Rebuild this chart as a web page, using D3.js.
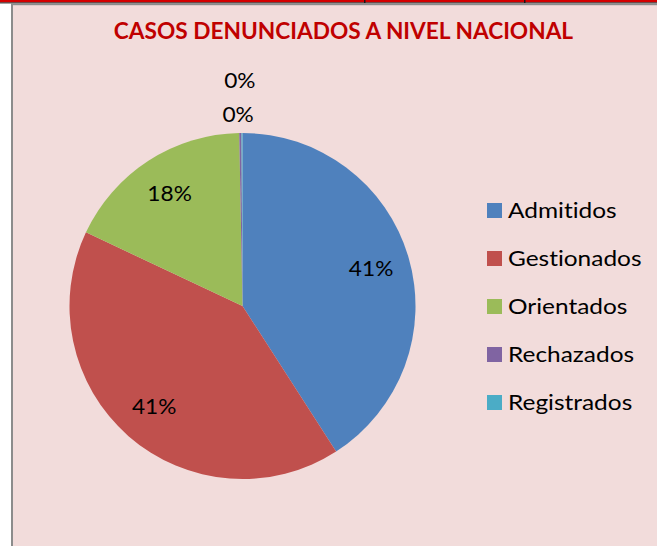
<!DOCTYPE html>
<html>
<head>
<meta charset="utf-8">
<script src="https://cdn.jsdelivr.net/npm/d3@7"></script>
<style>
  body { margin: 0; background: #fff; }
  svg { display: block; }
  text { font-family: Lato, "Noto Sans", sans-serif; font-variant-ligatures: none; }
</style>
</head>
<body>
<svg id="chart" width="657" height="546"></svg>
<script>
// ---------------------------------------------------------------
// data (shares, in %)
const categories = ["Admitidos", "Gestionados", "Orientados", "Rechazados", "Registrados"];
const values     = [40.9, 41.1, 17.7, 0.2, 0.1];
const colors     = ["#4F81BD", "#C0504D", "#9BBB59", "#8064A2", "#4BACC6"];
const chartTitle = "CASOS DENUNCIADOS A NIVEL NACIONAL";

const W = 657, H = 546;
const cx = 242.5, cy = 306, R = 173;

const svg = d3.select("#chart");

// spreadsheet bits above the chart object
svg.append("rect").attr("x", 0).attr("y", 0).attr("width", W).attr("height", 2.4).attr("fill", "#D40000");
svg.append("rect").attr("x", 0).attr("y", 2.4).attr("width", W).attr("height", 1).attr("fill", "#1a1a1a");
[364, 524].forEach(x => {
  svg.append("rect").attr("x", x).attr("y", 0).attr("width", 1.5).attr("height", 3).attr("fill", "#1a1a1a");
});

// chart area
svg.append("rect")
  .attr("x", 12).attr("y", 4.2)
  .attr("width", W + 20).attr("height", H + 20)
  .attr("fill", "#F2DCDB")
  .attr("stroke", "#8C8C8C")
  .attr("stroke-width", 2);

// helper : stretch text horizontally (the source font is wider than ours)
function stretch(sel, k) {
  sel.each(function() {
    const w = this.getComputedTextLength();
    d3.select(this).attr("textLength", w * k).attr("lengthAdjust", "spacingAndGlyphs");
  });
}

// title
svg.append("text")
  .attr("x", 343.5).attr("y", 38.5)
  .attr("text-anchor", "middle")
  .style("font-weight", "bold")
  .style("font-size", "22px")
  .attr("fill", "#C00000")
  .text(chartTitle)
  .call(stretch, 1.03);

// ###########################################
// pie
const pieData = d3.pie().sort(null).value(d => d.v)(categories.map((c, i) => ({ c, v: values[i], col: colors[i] })));
const arc = d3.arc().innerRadius(0).outerRadius(R);

const g = svg.append("g").attr("transform", `translate(${cx},${cy})`);

g.selectAll("path.slice")
  .data(pieData)
  .join("path")
    .attr("class", "slice")
    .attr("d", arc)
    .attr("fill", d => d.data.col);

// labels : big slices inside, tiny ones stacked above the rim
const labArc = d3.arc().innerRadius(R * 0.775).outerRadius(R * 0.775);
let stackIdx = 0;
pieData.forEach(d => {
  const pct = Math.round(d.data.v) + "%";
  let x, y;
  if (d.data.v >= 1) {
    [x, y] = labArc.centroid(d);
  } else {
    const mid = (d.startAngle + d.endAngle) / 2;
    const rr = R + 18 + 34 * stackIdx;
    x = Math.sin(mid) * rr - 2;
    y = -Math.cos(mid) * rr;
    stackIdx++;
  }
  g.append("text")
    .attr("x", x).attr("y", y)
    .attr("dy", "0.35em")
    .attr("text-anchor", "middle")
    .style("font-size", "21px")
    .attr("fill", "#000")
    .text(pct)
    .call(stretch, 1.08);
});

// ###########################################
// legend
const legY0 = 210.5, legStep = 48;
const leg = svg.append("g");
categories.forEach((c, i) => {
  const y = legY0 + i * legStep;
  leg.append("rect")
    .attr("x", 487).attr("y", y - 7.5)
    .attr("width", 15).attr("height", 15)
    .attr("fill", colors[i]);
  leg.append("text")
    .attr("x", 508).attr("y", y + 7.5)
    .style("font-size", "22px")
    .attr("fill", "#000")
    .text(c)
    .call(stretch, 1.11);
});
</script>
</body>
</html>
